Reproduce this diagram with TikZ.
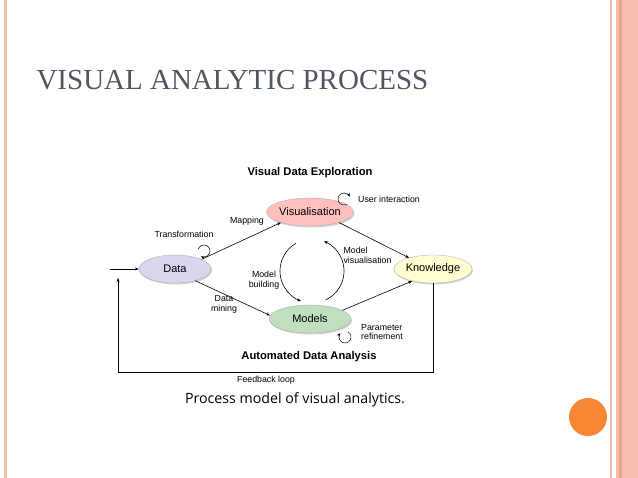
\documentclass[tikz,border=0pt]{standalone}
\usepackage{fontspec}
\setmainfont{Liberation Serif}
\newfontfamily\dsans{Liberation Sans}
\newfontfamily\capf{Open Sans}
\usetikzlibrary{shapes.geometric,arrows.meta,shadows}
\definecolor{stripe}{RGB}{244,190,170}
\definecolor{stripeD}{RGB}{236,165,140}
\definecolor{dot}{RGB}{247,135,52}
\definecolor{titc}{RGB}{80,85,100}
\begin{document}
\begin{tikzpicture}[x=1pt,y=-1pt,
  el/.style={ellipse,draw=gray!70,line width=0.3pt,minimum width=#1,minimum height=28pt,font=\dsans\fontsize{11}{12}\selectfont,inner sep=0pt,drop shadow={shadow xshift=1pt,shadow yshift=-1.5pt,opacity=0.35}},
  lab/.style={font=\dsans\fontsize{8.8}{9.8}\selectfont,align=center},
  hd/.style={font=\dsans\bfseries\fontsize{11.2}{12}\selectfont},
  ar/.style={-{Stealth[length=4pt,width=3pt]},line width=0.6pt}]
\useasboundingbox (0,0) rectangle (638,478);
\fill[white] (0,0) rectangle (638,478);
\fill[stripe] (4,0) rectangle (6.5,478);
\fill[stripe] (610,0) rectangle (612,478);
\fill[stripe] (616,0) rectangle (638,478);
\fill[stripeD] (619,0) rectangle (622,478);
\fill[dot] (588,417) circle (19);
\node[anchor=west,text=titc,font=\fontsize{29}{31}\selectfont] (title) at (33,80) {VISUAL ANALYTIC PROCESS};
\node[el=72pt,fill=cyan!20!blue!15] (data) at (175,269) {Data};
\node[el=82pt,fill=red!25] (vis) at (310,212) {Visualisation};
\node[el=78pt,fill=yellow!18] (know) at (433,269) {Knowledge};
\node[el=82pt,fill=green!50!black!25] (mod) at (310,319) {Models};
\node[hd] (vde) at (310,173) {Visual Data Exploration};
\node[hd] (ada) at (309,357) {Automated Data Analysis};
\node[lab] (fb) at (266,380) {Feedback loop};
\node[lab] (tr) at (184,234) {Transformation};
\node[lab] (mp) at (247,221) {Mapping};
\node[lab,align=left,anchor=west] (mv) at (340,255) {Model\\visualisation};
\node[lab] (mb) at (264,280) {Model\\building};
\node[lab] (dm) at (224,304) {Data\\mining};
\node[lab] (ui) at (389,199) {User interaction};
\node[lab,align=left] (pr) at (382,332) {Parameter\\refinement};
\node[font=\capf\fontsize{14.2}{16}\selectfont] (cap) at (295,400) {Process model of visual analytics.};
\coordinate (in) at (110,269);
\coordinate (fa) at (433,372);
\coordinate (fb1) at (118,372);
\coordinate (fb2) at (118,278);
\draw[ar] (in) -- (data.west);
\draw[ar] (data.20) -- (vis.200);
\draw[ar] (data.-30) -- (mod.175);
\draw[ar] (vis.-20) -- (know.155);
\draw[ar] (mod.15) -- (know.210);
\draw[ar,line width=0.5pt] (know.south) -- (fa) -- (fb1) -- (fb2);
% central cycle
\draw[ar] (312,271) ++(-120:32) arc[start angle=-120,end angle=-250,radius=32];
\draw[ar] (312,271) ++(65:32) arc[start angle=65,end angle=-68,radius=32];
% small loops
\draw[ar,line width=0.5pt] (204,251) ++(200:6) arc[start angle=200,end angle=480,radius=6];
\draw[ar,line width=0.5pt] (344,199) ++(60:6) arc[start angle=60,end angle=340,radius=6];
\draw[ar,line width=0.5pt] (345,337) ++(-60:6) arc[start angle=-60,end angle=220,radius=6];
\end{tikzpicture}
\end{document}
